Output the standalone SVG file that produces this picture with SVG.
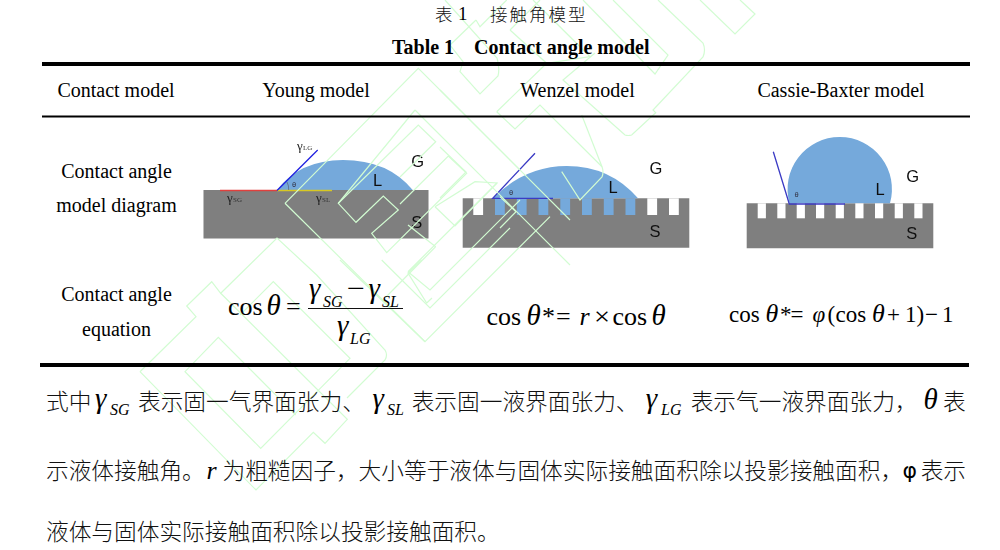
<svg xmlns="http://www.w3.org/2000/svg" width="1000" height="550" viewBox="0 0 1000 550">
<defs>
<filter id="soft" x="-5%" y="-5%" width="110%" height="110%"><feGaussianBlur stdDeviation="0.45"/></filter>
</defs>
<style>
text{fill:#000}
.t{font-family:"Liberation Serif","Noto Sans CJK SC",serif;font-size:20px}
.b{font-weight:bold}
.c{text-anchor:middle}
.cn{font-family:"Noto Sans CJK SC","Liberation Serif",sans-serif;font-size:22.7px;font-weight:300;fill:#111}
.cap{font-size:17.500px;letter-spacing:2px}
.i{font-family:"Liberation Serif",serif;font-style:italic;font-size:26px}
.big{font-size:29px}
.r{font-family:"Liberation Serif",serif;font-size:26px}
.s{font-family:"Liberation Serif",serif;font-style:italic;font-size:16px}
.m{font-size:23px}
.p{font-family:"Liberation Sans",sans-serif;font-size:16.5px;fill:#111;text-anchor:middle}
.th{font-family:"Liberation Sans",sans-serif;font-size:7.500px;fill:#334;text-anchor:middle}
.g{font-family:"Liberation Serif",serif;font-size:13px;fill:#222}
.gs{font-family:"Liberation Serif",serif;font-size:7px;fill:#333}
.wm{fill:none;stroke:#d2fcd2;stroke-width:1.2}
.rule{fill:#000}
.solid{fill:#7f7f7f}
.drop{fill:#74a9db}
.gap{fill:#fff}
.blue{stroke:#3a3ac4;stroke-width:1.3;fill:none}
</style>
<g id="young-figure" filter="url(#soft)">
<rect class="solid" x="203.5" y="190" width="225" height="48.5"/>
<path class="drop" d="M277 190Q300 160 343 160Q388 160 412.7 190Z"/>
<path d="M220 190.5H277" stroke="#e0403c" stroke-width="1.6"/>
<path d="M277 190.5H332" stroke="#d8c820" stroke-width="1.6"/>
<path d="M277 190.5L317.7 150" stroke="#2020e0" stroke-width="1.3"/>
<path d="M287 182Q289 186 288.7 190" stroke="#556" stroke-width="0.6" fill="none"/>
<text class="th" x="294" y="187">θ</text>
<text class="p" x="417.6" y="167">G</text><text class="p" x="377.7" y="186">L</text><text class="p" x="416.7" y="228">S</text>
<text class="g" x="297" y="150">γ</text><text class="gs" x="303" y="150">LG</text>
<text class="g" x="227" y="202">γ</text><text class="gs" x="233" y="202">SG</text>
<text class="g" x="316" y="202">γ</text><text class="gs" x="322" y="202">SL</text>
</g>
<g id="wenzel-figure" filter="url(#soft)">
<path class="solid" d="M462.7 198.3H689.3V247.7H462.7Z"/>
<path class="drop" d="M492.7 198.3Q525 166 566.7 166Q610 166 638 198.3Z"/>
<rect class="gap" x="473.3" y="198.3" width="9.8" height="16.7"/>
<g class="drop">
<rect x="495" y="198.3" width="9.8" height="16.7"/><rect x="516.8" y="198.3" width="9.8" height="16.7"/><rect x="538.5" y="198.3" width="9.8" height="16.7"/><rect x="560.3" y="198.3" width="9.8" height="16.7"/><rect x="582" y="198.3" width="9.8" height="16.7"/><rect x="603.8" y="198.3" width="9.8" height="16.7"/><rect x="625.5" y="198.3" width="9.8" height="16.7"/>
</g>
<rect class="gap" x="647.3" y="198.3" width="9.8" height="16.7"/><rect class="gap" x="669" y="198.3" width="9.8" height="16.7"/>
<path class="blue" d="M535 153.3L492.7 198.3H553"/>
<text class="th" x="511" y="195">θ</text>
<text class="p" x="656" y="174">G</text><text class="p" x="613" y="193">L</text><text class="p" x="655" y="237">S</text>
</g>
<g id="cassie-figure" filter="url(#soft)">
<path class="solid" d="M746.7 203.3H933.3V248.3H746.7Z"/>
<path class="drop" d="M789.5 203.3A52.2 52.2 0 1 1 890 203.3Z"/>
<g class="gap">
<rect x="757.7" y="203.3" width="8.2" height="15"/><rect x="777.3" y="203.3" width="8.2" height="15"/><rect x="796.7" y="203.3" width="8.2" height="15"/><rect x="816" y="203.3" width="8.2" height="15"/><rect x="835.7" y="203.3" width="8.2" height="15"/><rect x="855.3" y="203.3" width="8.2" height="15"/><rect x="875" y="203.3" width="8.2" height="15"/><rect x="894.7" y="203.3" width="8.2" height="15"/><rect x="914.3" y="203.3" width="8.2" height="15"/>
</g>
<path class="blue" d="M773.3 151.7L789.3 204H845"/>
<text class="th" x="796.7" y="197">θ</text>
<text class="p" x="912.7" y="182">G</text><text class="p" x="880" y="195">L</text><text class="p" x="911.7" y="239">S</text>
</g>
<g id="watermark" class="wm">
<path d="M140 371.7L196 316.7L186.700 306L211.700 281.700L220.700 293.300L277 238L316.700 275L385 350Q388 355 385 360L347 398"/>
<path d="M220.700 293.300L347.300 419.300L325 443.300L313.300 432.300L256 490L140 371.700"/>
<path d="M240 315L273.300 281.700L350 358.300L260.700 448.300L185 371.700L218.300 337.300L295.700 415"/>
<path d="M285 203.300L418.300 68.300L570 220M285 203.300L425 341.700L550 216.700"/>
<path d="M415 110L338.300 203.300L356 222.300L383.300 196L398.300 210L371.700 233.300L386.700 252.700L466.700 173.300L448.300 156L400 204M415 110L570 265"/>
<path d="M338.300 203.300L418.300 125L435.700 141.700L400 177"/>
<path d="M435 206.700L455 226L497 183L475 181.700L435 206.700"/>
<path d="M435.700 246.700L386 297M435.700 246.700L408 225"/>
<path d="M381.700 260L430 308L510 228M340 260L425 341.700"/>
<path d="M408 271.700L430 290L520 200M408 271.700L497 183"/>
<path d="M421.700 260L408 273L426.700 303L432 298"/>
<path d="M476 20L480 26.700L506.700 0M476 20L450 45L463 61.700L460 71.700L480 94L498 76Q500 68 497 58L445 0"/>
<path d="M510 30L546.700 63.300L590 56.700L533 0M510 30L540 0"/>
<path d="M583 0L655 74L668 55L613 0"/>
<path d="M658 0L703 43Q706 50 703 57L653 110L655.700 112.700L631.700 135Q628 136 625 135L563 80L595 53"/>
<path d="M700 0L735 34L755 14L740 0"/>
<path d="M581.700 115L602 166.700Q604 172 602 177L580 200L561.700 171.700"/>
<path d="M496.700 111.700L515 129L540 105L602 166.700M496.700 111.700L546.700 63.300"/>
<path d="M440 90L520 170M440 147L466 172L440 198M500 196.700L516 211.700L500 228"/>
</g>
<g id="rules">
<rect class="rule" x="42" y="62" width="928" height="4"/>
<rect class="rule" x="42" y="115.5" width="928" height="2"/>
<rect class="rule" x="40" y="363" width="929" height="4"/>
</g>
<g id="title">
<text class="cn cap" x="435" y="20.500">表</text>
<text class="t" style="font-size:19px" x="458" y="19.500">1</text>
<text class="cn cap" x="490" y="20.500">接触角模型</text>
<text class="t b" x="392" y="54">Table 1</text>
<text class="t b" x="474" y="54">Contact angle model</text>
</g>
<g id="table-text">
<text class="t c" x="116" y="97">Contact model</text>
<text class="t c" x="316" y="97">Young model</text>
<text class="t c" x="577.5" y="97">Wenzel model</text>
<text class="t c" x="841" y="97">Cassie-Baxter model</text>
<text class="t c" x="116.5" y="178">Contact angle</text>
<text class="t c" x="116.5" y="212">model diagram</text>
<text class="t c" x="116.5" y="301">Contact angle</text>
<text class="t c" x="116.5" y="336">equation</text>
</g>
<g id="equation-young">
<text class="r" x="228" y="315">cos</text><text class="i big" x="266.500" y="315">θ</text><text class="r" x="286" y="315">=</text>
<rect x="308" y="308" width="95" height="1" fill="#111"/>
<text class="i big" x="309" y="298">γ</text><text class="s" x="323" y="306.500">SG</text><text class="r" x="347" y="297" textLength="18" lengthAdjust="spacingAndGlyphs">−</text><text class="i big" x="368.500" y="298">γ</text><text class="s" x="382" y="306.500">SL</text>
<text class="i big" x="337" y="335">γ</text><text class="s" x="350" y="343.500">LG</text>
</g>
<g id="equation-wenzel">
<text class="r" x="486.500" y="325">cos</text><text class="i big" x="526.500" y="325">θ</text><text class="r" x="542" y="325">*</text><text class="r" x="556" y="325">=</text><text class="i" x="579.500" y="325">r</text><text class="r" x="594" y="325" textLength="16" lengthAdjust="spacingAndGlyphs">×</text><text class="r" x="612.500" y="325">cos</text><text class="i big" x="651.500" y="325">θ</text>
</g>
<g id="equation-cassie">
<text class="r m" x="729" y="322">cos</text><text class="i" x="765.500" y="322">θ</text><text class="r m" x="780" y="322">*</text><text class="r m" x="790.500" y="322">=</text><text class="i m" x="812.500" y="322">φ</text><text class="r m" x="827.500" y="322">(</text><text class="r m" x="835.500" y="322">cos</text><text class="i" x="872" y="322">θ</text><text class="r m" x="887" y="322">+</text><text class="r m" x="905" y="322">1</text><text class="r m" x="916.500" y="322">)</text><text class="r m" x="925" y="322">−</text><text class="r m" x="942" y="322">1</text>
</g>
<g id="paragraph">
<text class="cn" x="46" y="410">式中</text>
<text class="i big" x="95" y="408">γ</text><text class="s" x="110" y="415">SG</text>
<text class="cn" x="138" y="410">表示固一气界面张力、</text>
<text class="i big" x="372.500" y="408">γ</text><text class="s" x="387" y="415">SL</text>
<text class="cn" x="411.700" y="410">表示固一液界面张力、</text>
<text class="i big" x="645.700" y="408">γ</text><text class="s" x="661" y="415">LG</text>
<text class="cn" x="690.700" y="410">表示气一液界面张力，</text>
<text class="i big" x="923.500" y="409">θ</text>
<text class="cn" x="943" y="410">表</text>
<text class="cn" x="46" y="479">示液体接触角。</text>
<text class="i" x="206.500" y="479">r</text>
<text class="cn" x="222.500" y="479">为粗糙因子，大小等于液体与固体实际接触面积除以投影接触面积，</text>
<text x="902.500" y="478" style="font-family:'DejaVu Sans',sans-serif;font-size:22px">φ</text>
<text class="cn" x="920.700" y="479">表示</text>
<text class="cn" x="46" y="540">液体与固体实际接触面积除以投影接触面积。</text>
</g>
</svg>
